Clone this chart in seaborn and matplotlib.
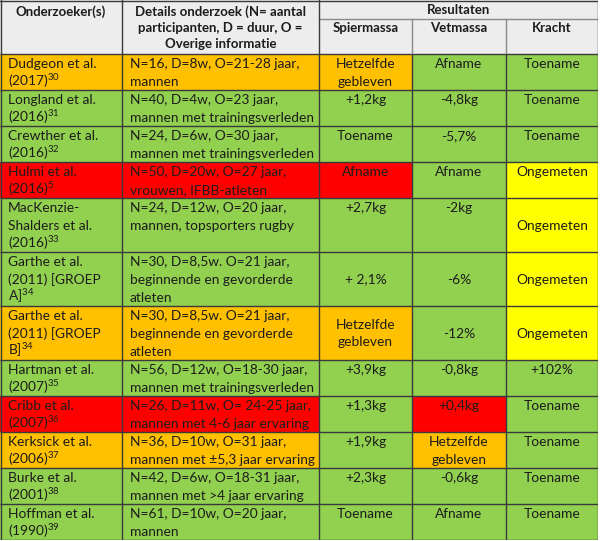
import numpy as np
import pandas as pd
import matplotlib
matplotlib.use("Agg")
import matplotlib.pyplot as plt
from matplotlib.colors import ListedColormap
import seaborn as sns

# ---------------- data ----------------
researchers = [
    ["Dudgeon et al.", "(2017)"],
    ["Longland et al.", "(2016)"],
    ["Crewther et al.", "(2016)"],
    ["Hulmi et al.", "(2016)"],
    ["MacKenzie-", "Shalders et al.", "(2016)"],
    ["Garthe et al.", "(2011) [GROEP", "A]"],
    ["Garthe et al.", "(2011) [GROEP", "B]"],
    ["Hartman et al.", "(2007)"],
    ["Cribb et al.", "(2007)"],
    ["Kerksick et al.", "(2006)"],
    ["Burke et al.", "(2001)"],
    ["Hoffman et al.", "(1990)"],
]
refs = ["30", "31", "32", "5", "33", "34", "34", "35", "36", "37", "38", "39"]
details = [
    ["N=16, D=8w, O=21-28 jaar,", "mannen"],
    ["N=40, D=4w, O=23 jaar,", "mannen met trainingsverleden"],
    ["N=24, D=6w, O=30 jaar,", "mannen met trainingsverleden"],
    ["N=50, D=20w, O=27 jaar,", "vrouwen, IFBB-atleten"],
    ["N=24, D=12w, O=20 jaar,", "mannen, topsporters rugby"],
    ["N=30, D=8,5w. O=21 jaar,", "beginnende en gevorderde", "atleten"],
    ["N=30, D=8,5w. O=21 jaar,", "beginnende en gevorderde", "atleten"],
    ["N=56, D=12w, O=18-30 jaar,", "mannen met trainingsverleden"],
    ["N=26, D=11w, O= 24-25 jaar,", "mannen met 4-6 jaar ervaring"],
    ["N=36, D=10w, O=31 jaar,", "mannen met \u00b15,3 jaar ervaring"],
    ["N=42, D=6w, O=18-31 jaar,", "mannen met >4 jaar ervaring"],
    ["N=61, D=10w, O=20 jaar,", "mannen"],
]
spiermassa = ["Hetzelfde\ngebleven", "+1,2kg", "Toename", "Afname", "+2,7kg", "+ 2,1%",
              "Hetzelfde\ngebleven", "+3,9kg", "+1,3kg", "+1,9kg", "+2,3kg", "Toename"]
vetmassa = ["Afname", "-4,8kg", "-5,7%", "Afname", "-2kg", "-6%", "-12%", "-0,8kg",
            "+0,4kg", "Hetzelfde\ngebleven", "-0,6kg", "Afname"]
kracht = ["Toename", "Toename", "Toename", "Ongemeten", "Ongemeten", "Ongemeten",
          "Ongemeten", "+102%", "Toename", "Toename", "Toename", "Toename"]

row_status = ["same", "good", "good", "bad", "good", "good", "same", "good", "bad",
              "same", "good", "good"]
spier_status = ["same", "good", "good", "bad", "good", "good", "same", "good", "good",
                "good", "good", "good"]
vet_status = ["good", "good", "good", "good", "good", "good", "good", "good", "bad",
              "same", "good", "good"]
kracht_status = ["good", "good", "good", "none", "none", "none", "none", "good", "good",
                 "good", "good", "good"]

header_cols = ["Onderzoeker(s)",
               "Details onderzoek (N= aantal\nparticipanten, D = duur, O =\nOverige informatie"]
result_title = "Resultaten"
result_cols = ["Spiermassa", "Vetmassa", "Kracht"]

# ---------------- layout / style ----------------
status_code = {"header": 0, "good": 1, "same": 2, "bad": 3, "none": 4}
palette = ["#EDEDED", "#92D050", "#FFC000", "#FF0000", "#FFFF00"]
col_widths = [122, 197, 93, 94, 92]           # pixels
col_edges = np.concatenate([[0], np.cumsum(col_widths)])
UNIT = 18                                      # pixels per row unit
row_units = [3] + [len(r) if len(r) == 3 else 2 for r in researchers]
row_edges_px = np.concatenate([[0], np.cumsum(row_units)]) * UNIT

codes = [[0] * 5]
for i in range(len(researchers)):
    codes.append([status_code[row_status[i]], status_code[row_status[i]],
                  status_code[spier_status[i]], status_code[vet_status[i]],
                  status_code[kracht_status[i]]])
codes = np.array(codes)
grid = np.repeat(np.repeat(codes, row_units, axis=0), col_widths, axis=1)
df = pd.DataFrame(grid)

FS = 9.9
HFS = 9.5
TXT = "#1c1c1c"
LINE = "#3a3a3a"
HLINE = "#8a8a8a"

sns.set_theme(style="white")
plt.rcParams["font.family"] = ["Lato", "DejaVu Sans"]
plt.rcParams["mathtext.default"] = "regular"
plt.rcParams["mathtext.fontset"] = "custom"
plt.rcParams["mathtext.rm"] = "Lato"

W, H = 600, 541
fig = plt.figure(figsize=(W / 100, H / 100), dpi=100)
fig.patch.set_facecolor("white")
total_w = col_edges[-1]
total_h = row_edges_px[-1]
ax = fig.add_axes([0, (H - total_h) / H, total_w / W, total_h / H])
sns.heatmap(df, ax=ax, cmap=ListedColormap(palette), vmin=-0.5, vmax=4.5, cbar=False,
            xticklabels=False, yticklabels=False, linewidths=0)
ax.set_xlim(0, total_w)
ax.set_ylim(total_h / UNIT, 0)
for s in ax.spines.values():
    s.set_visible(False)


def py(p):
    return p / UNIT


# grid lines
lw = 1.0
hdr_bottom = row_edges_px[1]
for yp in row_edges_px[1:]:
    ax.plot([0, total_w], [py(yp), py(yp)], color=LINE, lw=lw, solid_capstyle="butt")
ax.plot([0, total_w], [py(0.5), py(0.5)], color=LINE, lw=lw)
ax.plot([col_edges[2], total_w], [py(19), py(19)], color=HLINE, lw=lw)
ax.plot([0.5, 0.5], [0, py(total_h)], color=LINE, lw=lw)
ax.plot([total_w - 0.5, total_w - 0.5], [0, py(total_h)], color=LINE, lw=lw)
for xe in col_edges[1:3]:
    ax.plot([xe, xe], [0, py(total_h)], color=LINE, lw=lw)
for xe in col_edges[3:5]:
    ax.plot([xe, xe], [py(19), py(hdr_bottom)], color=HLINE, lw=lw)
    ax.plot([xe, xe], [py(hdr_bottom), py(total_h)], color=LINE, lw=lw)

# header text
ax.text((col_edges[0] + col_edges[1]) / 2, py(15.5), header_cols[0], ha="center",
        va="baseline", fontsize=HFS, fontweight="bold", color=TXT)
for k, line in enumerate(header_cols[1].split("\n")):
    ax.text((col_edges[1] + col_edges[2]) / 2, py(15.5 + 16.3 * k), line, ha="center",
            va="baseline", fontsize=HFS, fontweight="bold", color=TXT)
ax.text((col_edges[2] + col_edges[5]) / 2, py(14.5), result_title, ha="center",
        va="baseline", fontsize=HFS, fontweight="bold", color=TXT)
for j, name in enumerate(result_cols):
    ax.text((col_edges[2 + j] + col_edges[3 + j]) / 2, py(32.5), name, ha="center",
            va="baseline", fontsize=HFS, fontweight="bold", color=TXT)

# body text
LS = 17.5
centered = {(4, 2), (5, 0), (5, 1), (5, 2), (6, 0), (6, 1), (6, 2)}
for i in range(len(researchers)):
    top = row_edges_px[i + 1]
    bottom = row_edges_px[i + 2]
    lines = list(researchers[i])
    lines[-1] = lines[-1] + "$^{" + refs[i] + "}$"
    for k, line in enumerate(lines):
        ax.text(8, py(top + 14.5 + LS * k), line, ha="left", va="baseline",
                fontsize=FS, color=TXT)
    for k, line in enumerate(details[i]):
        ax.text(col_edges[1] + 8, py(top + 14.5 + LS * k), line, ha="left",
                va="baseline", fontsize=FS, color=TXT)
    for j, vals in enumerate([spiermassa, vetmassa, kracht]):
        parts = vals[i].split("\n")
        xc = (col_edges[2 + j] + col_edges[3 + j]) / 2
        if (i, j) in centered:
            mid = (top + bottom) / 2
            base0 = mid + 4.5 - LS * (len(parts) - 1) / 2
        else:
            base0 = top + 14.5
        for k, line in enumerate(parts):
            ax.text(xc, py(base0 + LS * k), line, ha="center", va="baseline",
                    fontsize=FS, color=TXT)

fig.savefig("out.png", dpi=100, facecolor="white")
